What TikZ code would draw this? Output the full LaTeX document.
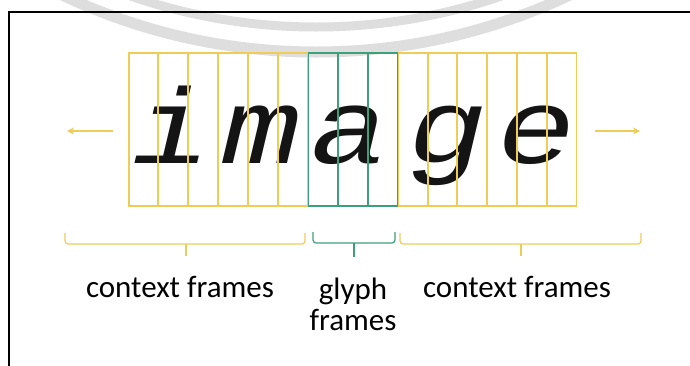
\documentclass[tikz,border=0pt]{standalone}
\usepackage{fontspec}
\usepackage{graphicx}
\setmainfont{Carlito}
\newfontfamily\glyphfont{Liberation Mono}[UprightFont=* Italic]
\newcommand\widen[1]{\scalebox{1.22}[1]{#1}}
\usepackage{tikz}
\usetikzlibrary{arrows.meta,calc}
\definecolor{framey}{RGB}{238,204,88}
\definecolor{frameg}{RGB}{62,160,122}
\definecolor{markgray}{RGB}{222,222,222}
\tikzset{
  frame/.style={draw,line width=1.1pt,minimum width=29pt,minimum height=153pt,inner sep=0pt},
  glyph/.style={font=\glyphfont\fontsize{107}{107}\selectfont,anchor=base,inner sep=0pt,text=black!92},
  lbl/.style={font=\fontsize{31}{37}\selectfont,anchor=base,inner sep=0pt,text=black},
  brace/.style={line width=1.2pt,rounded corners=3pt},
  slide/.style={framey,line width=1.2pt,-{Stealth[length=7pt,width=7pt]}}
}

\begin{document}
\begin{tikzpicture}[x=1pt,y=-1pt]
\useasboundingbox (0,0) rectangle (690,365);
% watermark rings
\begin{scope}
\clip (0,0) rectangle (690,365);
\draw[markgray,line width=11pt] (316,-540) circle[radius=592];
\draw[markgray,line width=9pt] (316,-540) circle[radius=567];
\end{scope}
\draw[line width=1.8pt] (9,366) -- (9,12) -- (691,12);

% the word
\node[glyph] (gi) at (172,163) {\widen{i}};
\node[glyph] (gm) at (262,163) {\widen{m}};
\node[glyph] (ga) at (350,163) {\widen{a}};
\node[glyph] (gg) at (448,163) {\widen{g}};
\node[glyph] (ge) at (537,163) {\widen{e}};

% frames
\foreach \i in {0,...,5,9,10,...,14}
  \node[frame,framey] (f\i) at (143.5+29.9*\i,129.5) {};
\foreach \i in {6,7,8}
  \node[frame,frameg] (f\i) at (143.5+29.9*\i,129.5) {};

% sliding direction
\coordinate (la0) at (113,131); \coordinate (la1) at (67,131);
\coordinate (ra0) at (595,131); \coordinate (ra1) at (640,131);
\draw[slide] (la0) -- (la1);
\draw[slide] (ra0) -- (ra1);

% braces
\coordinate (bl0) at (65,233); \coordinate (bl1) at (305,233);
\coordinate (bg0) at (313,232); \coordinate (bg1) at (395,232);
\coordinate (br0) at (400,233); \coordinate (br1) at (641,233);
\draw[brace,framey] (bl0) -- ++(0,11) -| (bl1);
\draw[brace,framey] (186,244) -- (186,256);
\draw[brace,frameg] (bg0) -- ++(0,11) -| (bg1);
\draw[brace,frameg] (354,243) -- (354,257);
\draw[brace,framey] (br0) -- ++(0,11) -| (br1);
\draw[brace,framey] (521,244) -- (521,256);

% labels
\node[lbl] (ctxl) at (180,297) {context frames};
\node[lbl] (glyphl) at (353,299) {glyph};
\node[lbl] (framesl) at (353,330) {frames};
\node[lbl] (ctxr) at (517,297) {context frames};
\end{tikzpicture}
\end{document}
